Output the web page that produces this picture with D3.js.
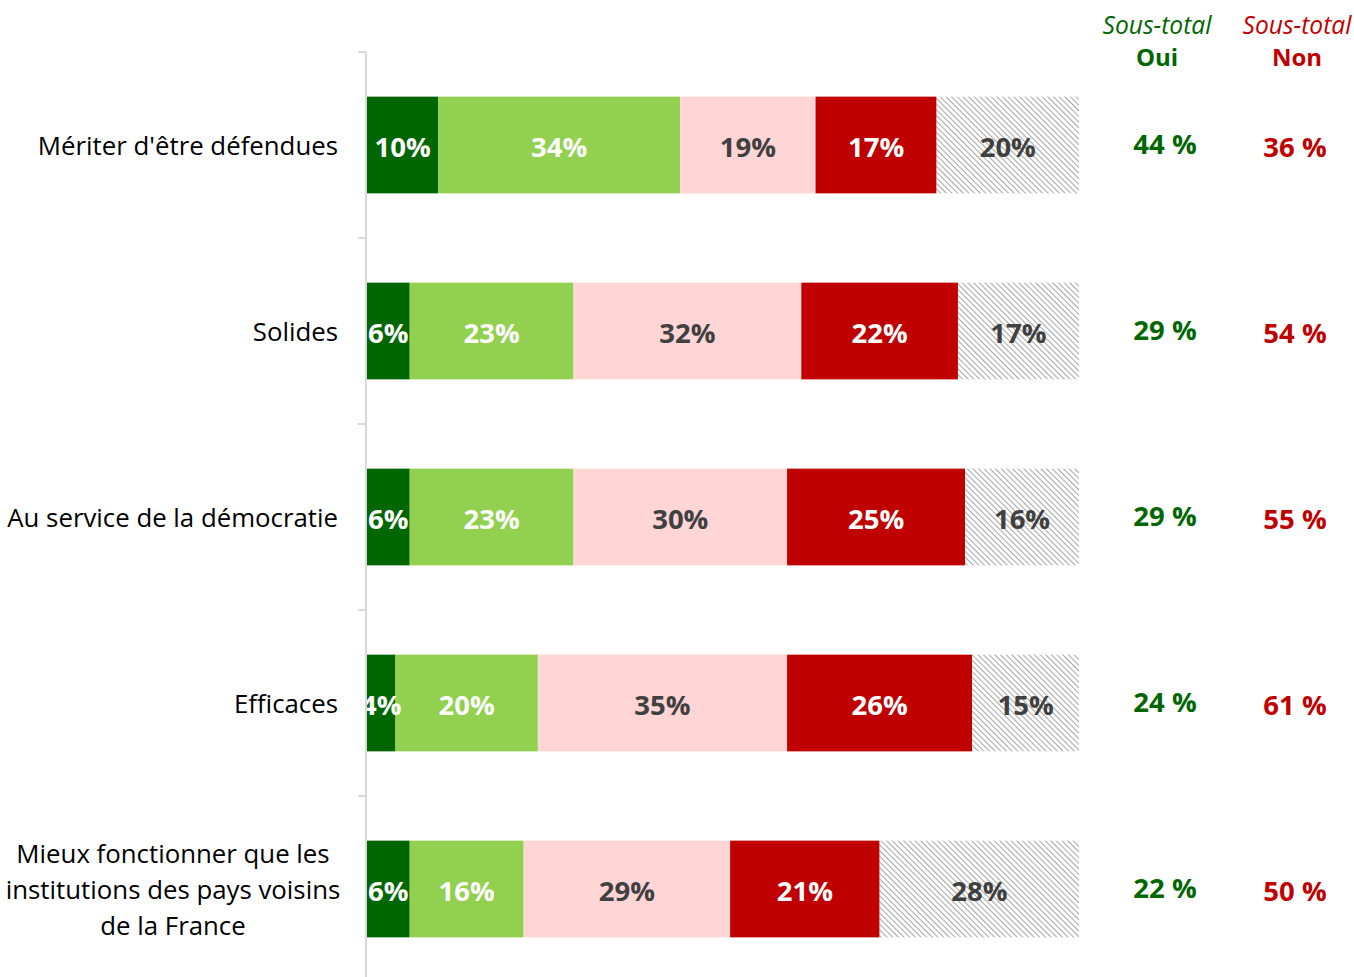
<!DOCTYPE html>
<html>
<head>
<meta charset="utf-8">
<script src="https://cdn.jsdelivr.net/npm/d3@7"></script>
<style>
  html, body { margin: 0; padding: 0; background: #fff; }
  svg { display: block; }
  text { font-family: "Open Sans", Lato, sans-serif; }
</style>
</head>
<body>
<svg id="chart" width="1354" height="977"></svg>
<script>
// Categories (one row each); multi-line labels split with "\n"
const categories = [
  "Mériter d'être défendues",
  "Solides",
  "Au service de la démocratie",
  "Efficaces",
  "Mieux fonctionner que les\ninstitutions des pays voisins\nde la France"
];
// Answer shares in %, per category
const ouiTout = [10, 6, 6, 4, 6];
const ouiPlutot = [34, 23, 23, 20, 16];
const nonPlutot = [19, 32, 30, 35, 29];
const nonPasDuTout = [17, 22, 25, 26, 21];
const nsp = [20, 17, 16, 15, 28];
// Sub-totals shown on the right
const sousTotalOui = [44, 29, 29, 24, 22];
const sousTotalNon = [36, 54, 55, 61, 50];

const seriesValues = [ouiTout, ouiPlutot, nonPlutot, nonPasDuTout, nsp];
const seriesFill = ["#006600", "#92D050", "#FFD5D5", "#C00000", "url(#hatch)"];
const seriesText = ["#ffffff", "#ffffff", "#404040", "#ffffff", "#404040"];

const svg = d3.select("#chart");

// Diagonal hatch for the "no answer" segment
const defs = svg.append("defs");
const pat = defs.append("pattern")
  .attr("id", "hatch")
  .attr("patternUnits", "userSpaceOnUse")
  .attr("width", 4).attr("height", 4)
  .attr("patternTransform", "rotate(-45)");
pat.append("rect").attr("width", 4).attr("height", 4).attr("fill", "#ffffff");
pat.append("line").attr("x1", 0).attr("y1", 0).attr("x2", 0).attr("y2", 4)
  .attr("stroke", "#7f7f7f").attr("stroke-width", 1.4);

const x = d3.scaleLinear().domain([0, 100]).range([367, 1079]);
const y = d3.scaleBand().domain(d3.range(categories.length)).range([52, 982]).paddingInner(0.48).paddingOuter(0.24);

// Build stacked rows
const rows = categories.map((c, i) => {
  let acc = 0;
  return seriesValues.map((s, k) => {
    const seg = { row: i, k, v: s[i], x0: acc, x1: acc + s[i] };
    acc += s[i];
    return seg;
  });
});

const segs = rows.flat();

svg.append("g").selectAll("rect").data(segs).join("rect")
  .attr("x", d => x(d.x0))
  .attr("y", d => y(d.row))
  .attr("width", d => x(d.x1) - x(d.x0))
  .attr("height", y.bandwidth())
  .attr("fill", d => seriesFill[d.k]);

svg.append("g").selectAll("text").data(segs).join("text")
  .attr("x", d => (x(d.x0) + x(d.x1)) / 2)
  .attr("y", d => y(d.row) + y.bandwidth() / 2 + 1)
  .attr("text-anchor", "middle")
  .attr("dominant-baseline", "central")
  .attr("font-size", 27.5)
  .attr("font-weight", "bold")
  .attr("fill", d => seriesText[d.k])
  .text(d => d.v + "%");

// Category axis
const outer = d3.scaleBand().domain(d3.range(categories.length)).range([52, 982]);
const axis = svg.append("g");
axis.append("line")
  .attr("x1", 366).attr("x2", 366).attr("y1", 52).attr("y2", 982)
  .attr("stroke", "#d9d9d9").attr("stroke-width", 2);
axis.selectAll("line.tick").data(d3.range(categories.length + 1)).join("line")
  .attr("class", "tick")
  .attr("x1", 358).attr("x2", 366)
  .attr("y1", d => 52 + d * outer.step()).attr("y2", d => 52 + d * outer.step())
  .attr("stroke", "#d9d9d9").attr("stroke-width", 2);

categories.forEach((c, i) => {
  const lines = c.split("\n");
  const cy = y(i) + y.bandwidth() / 2;
  const lh = 36;
  const multi = lines.length > 1;
  const t = svg.append("text")
    .attr("text-anchor", multi ? "middle" : "end")
    .attr("font-size", 25.8)
    .attr("fill", "#000");
  lines.forEach((l, j) => {
    t.append("tspan")
      .attr("x", multi ? 173 : 338)
      .attr("y", cy + (j - (lines.length - 1) / 2) * lh)
      .attr("dominant-baseline", "central")
      .text(l);
  });
});

// Sub-total columns
const colOui = 1157, colNon = 1297;
const headers = [
  { x: colOui, label: "Oui", color: "#006600" },
  { x: colNon, label: "Non", color: "#C00000" }
];
headers.forEach(h => {
  svg.append("text").attr("x", h.x).attr("y", 24).attr("text-anchor", "middle")
    .attr("dominant-baseline", "central").attr("font-size", 24.6).attr("font-style", "italic")
    .attr("fill", h.color).text("Sous-total");
  svg.append("text").attr("x", h.x).attr("y", 56).attr("text-anchor", "middle")
    .attr("dominant-baseline", "central").attr("font-size", 24).attr("font-weight", "bold")
    .attr("fill", h.color).text(h.label);
});

svg.append("g").selectAll("text").data(sousTotalOui).join("text")
  .attr("x", 1165).attr("y", (d, i) => y(i) + y.bandwidth() / 2 - 2)
  .attr("text-anchor", "middle").attr("dominant-baseline", "central")
  .attr("font-size", 27.5).attr("font-weight", "bold").attr("fill", "#006600")
  .text(d => d + " %");
svg.append("g").selectAll("text").data(sousTotalNon).join("text")
  .attr("x", 1295).attr("y", (d, i) => y(i) + y.bandwidth() / 2 + 1)
  .attr("text-anchor", "middle").attr("dominant-baseline", "central")
  .attr("font-size", 27.5).attr("font-weight", "bold").attr("fill", "#C00000")
  .text(d => d + " %");
</script>
</body>
</html>
